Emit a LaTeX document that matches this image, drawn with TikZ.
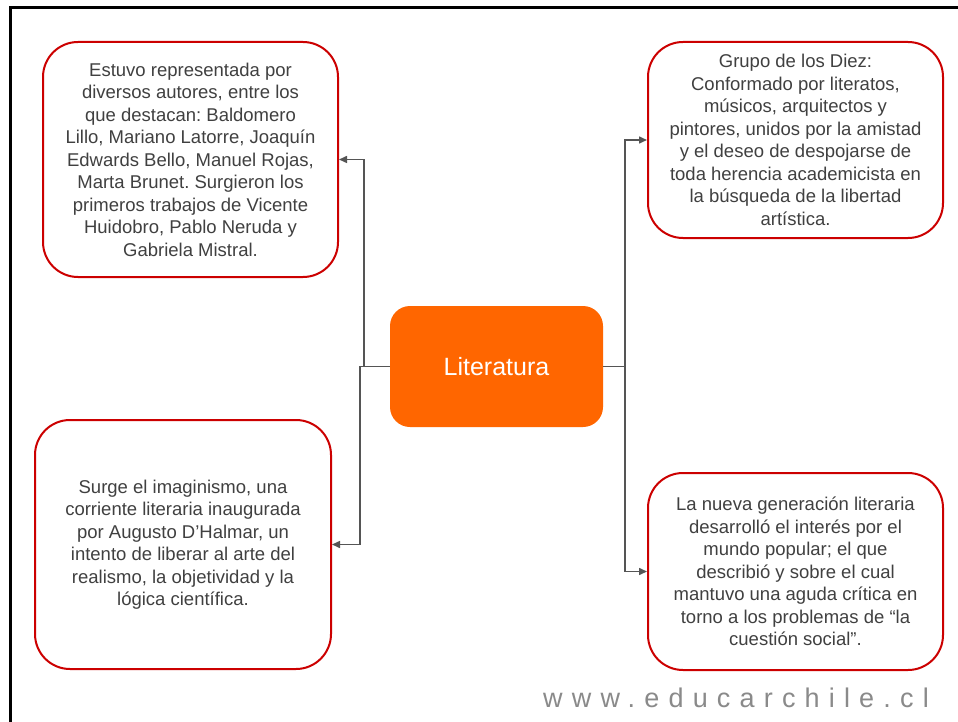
\documentclass[tikz,border=0pt]{standalone}
\usepackage{fontspec}
\setmainfont{Liberation Sans}
\newfontfamily\wmfont[LetterSpace=34]{Liberation Sans}
\usetikzlibrary{arrows.meta}
\frenchspacing
\definecolor{boxred}{HTML}{CC0000}
\definecolor{litorange}{HTML}{FF6600}
\definecolor{txtgray}{HTML}{404040}
\definecolor{linegray}{HTML}{555555}
\definecolor{wmgray}{HTML}{8A8A8A}
\tikzset{
  infobox/.style={draw=boxred, line width=2pt, rounded corners=35pt, fill=white,
    align=center, inner sep=0pt, text=txtgray,
    font=\fontsize{18.5pt}{22.5pt}\selectfont},
  centralbox/.style={fill=litorange, rounded corners=20pt, inner sep=0pt,
    minimum width=213pt, minimum height=121pt, text=white,
    font=\fontsize{25pt}{30pt}\selectfont},
  conn/.style={draw=linegray, line width=1.5pt,
    -{Triangle[length=8pt,width=7pt]}},
  frameline/.style={draw=black, line width=3pt}
}
\begin{document}
\frenchspacing
\begin{tikzpicture}[x=1pt, y=-1pt]
\useasboundingbox (0,0) rectangle (958,722);
\fill[white] (0,0) rectangle (958,722);
\coordinate (fa) at (10,722);
\coordinate (fb) at (10,8);
\coordinate (fc) at (958,8);
\draw[frameline] (fa) -- (fb) -- (fc);

\node[centralbox] (lit) at (496.5,366.5) {Literatura};

\node[infobox, minimum width=295pt, minimum height=235pt] (tl) at (190.5,159.5)
 {Estuvo representada por\\diversos autores, entre los\\que destacan: Baldomero\\Lillo, Mariano Latorre, Joaquín\\Edwards Bello, Manuel Rojas,\\Marta Brunet. Surgieron los\\primeros trabajos de Vicente\\Huidobro, Pablo Neruda y\\Gabriela Mistral.};

\node[infobox, minimum width=295pt, minimum height=196pt] (tr) at (795.5,140)
 {Grupo de los Diez:\\Conformado por literatos,\\músicos, arquitectos y\\pintores, unidos por la amistad\\y el deseo de despojarse de\\toda herencia academicista en\\la búsqueda de la libertad\\artística.};

\node[infobox, minimum width=296pt, minimum height=249pt] (bl) at (183,544.5)
 {Surge el imaginismo, una\\corriente literaria inaugurada\\por Augusto D’Halmar, un\\intento de liberar al arte del\\realismo, la objetividad y la\\lógica científica.};

\node[infobox, minimum width=295pt, minimum height=197pt] (br) at (795.5,571.5)
 {La nueva generación literaria\\desarrolló el interés por el\\mundo popular; el que\\describió y sobre el cual\\mantuvo una aguda crítica en\\torno a los problemas de “la\\cuestión social”.};

\draw[conn] (lit.west) -- ++(-26,0) |- (tl.east);
\draw[conn] (lit.west) -- ++(-30,0) |- (bl.east);
\draw[conn] (lit.east) -- ++(22,0) |- (tr.west);
\draw[conn] (lit.east) -- ++(22,0) |- (br.west);

\node[anchor=base west, inner sep=0pt, text=wmgray, font=\wmfont\fontsize{27pt}{30pt}\selectfont] (wm) at (543,707) {www.educarchile.cl};
\end{tikzpicture}
\end{document}
